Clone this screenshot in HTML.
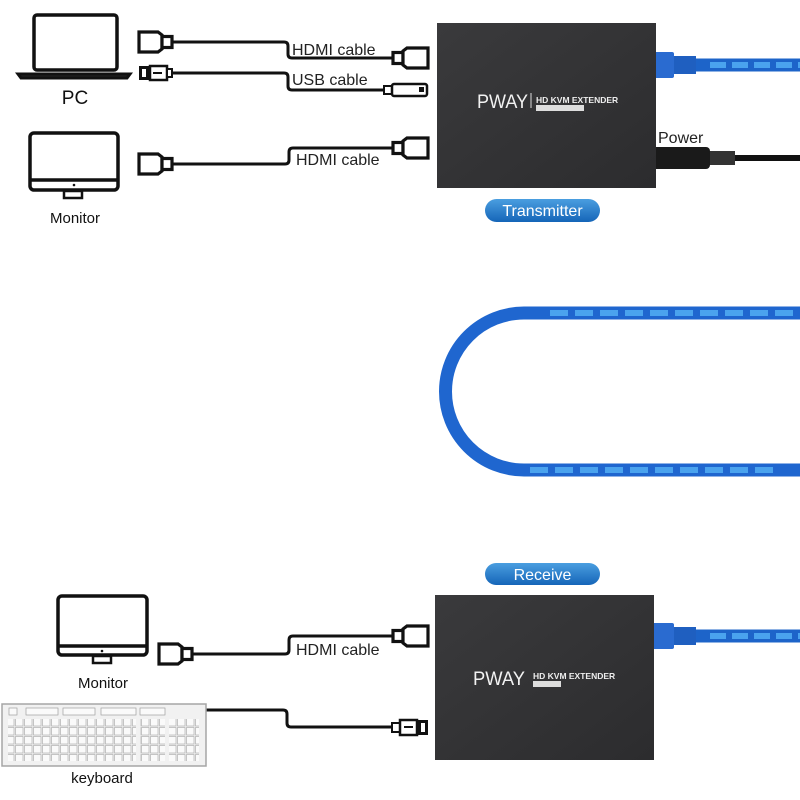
<!DOCTYPE html>
<html><head><meta charset="utf-8"><style>
html,body{margin:0;padding:0;background:#fff;width:800px;height:800px;overflow:hidden}
svg{display:block}
text{font-family:"Liberation Sans",sans-serif}
</style></head><body>
<svg width="800" height="800" viewBox="0 0 800 800" xmlns="http://www.w3.org/2000/svg">
<defs>
  <linearGradient id="box" x1="0" y1="0" x2="1" y2="1">
    <stop offset="0" stop-color="#3a3a3c"/><stop offset="1" stop-color="#2c2c2e"/>
  </linearGradient>
  <linearGradient id="pill" x1="0" y1="0" x2="0" y2="1">
    <stop offset="0" stop-color="#4a9ee0"/><stop offset="1" stop-color="#1565b8"/>
  </linearGradient>
  <pattern id="keys" x="6" y="718" width="9" height="9" patternUnits="userSpaceOnUse">
    <rect x="0.5" y="0.5" width="7.5" height="7.5" fill="#fafafa" stroke="#b0b0b0" stroke-width="0.7"/>
  </pattern>
  <g id="hdmiL">
    <path d="M0,-10 h19 l4,3 v14 l-4,3 h-19 z" fill="#fff" stroke="#111" stroke-width="3.2"/>
    <rect x="23" y="-5.5" width="10" height="11" fill="#fff" stroke="#111" stroke-width="3.2"/>
  </g>
  <g id="hdmiR">
    <rect x="0" y="-5.5" width="10" height="11" fill="#fff" stroke="#111" stroke-width="3.2"/>
    <path d="M14,-10 h21 v20 h-21 l-4,-3 v-14 z" fill="#fff" stroke="#111" stroke-width="3.2"/>
  </g>
</defs>

<rect x="34" y="15" width="83" height="55" rx="3" fill="#fff" stroke="#111" stroke-width="3.5"/>
<path d="M18,74 h112 l-3,4 h-106 z" fill="#222" stroke="#111" stroke-width="3"/>
<text x="75" y="104" font-size="19" text-anchor="middle" fill="#111">PC</text>

<rect x="30" y="133" width="88" height="57" rx="4" fill="#fff" stroke="#111" stroke-width="3.5"/>
<line x1="30" y1="180" x2="118" y2="180" stroke="#111" stroke-width="3.5"/>
<circle cx="74" cy="185" r="1.3" fill="#111"/>
<rect x="64" y="191" width="18" height="7" fill="#fff" stroke="#111" stroke-width="2.5"/>
<text x="75" y="223" font-size="15" text-anchor="middle" fill="#111">Monitor</text>

<g fill="none" stroke="#111" stroke-width="3">
  <path d="M172,42 H284 q4,0 4,4 v8 q0,4 4,4 H392"/>
  <path d="M172,73 H284 q4,0 4,4 v9 q0,4 4,4 H384"/>
  <path d="M172,164 H285 q4,0 4,-4 v-8 q0,-4 4,-4 H392"/>
</g>
<use href="#hdmiL" x="139" y="42"/>
<use href="#hdmiR" x="393" y="58"/>
<use href="#hdmiL" x="139" y="164"/>
<use href="#hdmiR" x="393" y="148"/>
<rect x="139" y="66" width="10" height="14" fill="#111"/>
<rect x="142" y="69" width="4" height="8" fill="#fff"/>
<rect x="150" y="66" width="17" height="14" fill="#fff" stroke="#111" stroke-width="2.5"/>
<path d="M153,73 h9" stroke="#111" stroke-width="2"/>
<rect x="167" y="69" width="5" height="8" fill="#fff" stroke="#111" stroke-width="2"/>
<rect x="384" y="86" width="8" height="8" fill="#fff" stroke="#111" stroke-width="2"/>
<rect x="392" y="84" width="35" height="12" rx="2" fill="#fff" stroke="#111" stroke-width="2.5"/>
<rect x="419" y="87" width="5" height="5" fill="#111"/>

<text x="292" y="55" font-size="16" fill="#222">HDMI cable</text>
<text x="292" y="85" font-size="16" fill="#222">USB cable</text>
<text x="296" y="165" font-size="16" fill="#222">HDMI cable</text>

<g fill="none">
  <path d="M650,65 H800" stroke="#1d64c9" stroke-width="13"/>
  <path d="M710,65 H800" stroke="#4aa3ee" stroke-width="6" stroke-dasharray="16 6"/>
  <path d="M650,158 H800" stroke="#111" stroke-width="6"/>
</g>
<rect x="652" y="52" width="22" height="26" rx="2" fill="#2a6bd0"/>
<rect x="674" y="56" width="22" height="18" fill="#1f5fc0"/>
<rect x="650" y="147" width="60" height="22" rx="4" fill="#1a1a1a"/>
<rect x="710" y="151" width="25" height="14" fill="#333"/>
<rect x="437" y="23" width="219" height="165" fill="url(#box)"/>
<text x="477" y="108" font-size="19" fill="#f2f2f2" textLength="51" lengthAdjust="spacingAndGlyphs">PWAY</text>
<line x1="531" y1="93" x2="531" y2="108" stroke="#ddd" stroke-width="1"/>
<text x="536" y="103" font-size="8.5" fill="#eee" font-weight="bold">HD KVM EXTENDER</text>
<rect x="536" y="105" width="48" height="6" fill="#ddd"/>
<text x="658" y="143" font-size="16" fill="#222">Power</text>
<rect x="485" y="199" width="115" height="23" rx="11.5" fill="url(#pill)"/>
<text x="542.5" y="216" font-size="16" fill="#fff" text-anchor="middle">Transmitter</text>

<path d="M800,313 H524 A78,78 0 0 0 524,470 H800" fill="none" stroke="#1f66cf" stroke-width="13"/>
<path d="M550,313 H800" fill="none" stroke="#4aa3ee" stroke-width="6" stroke-dasharray="18 7"/>
<path d="M530,470 H780" fill="none" stroke="#4aa3ee" stroke-width="6" stroke-dasharray="18 7"/>

<rect x="485" y="563" width="115" height="22" rx="11" fill="url(#pill)"/>
<text x="542.5" y="580" font-size="16" fill="#fff" text-anchor="middle">Receive</text>

<g fill="none">
  <path d="M650,636 H800" stroke="#1d64c9" stroke-width="13"/>
  <path d="M710,636 H800" stroke="#4aa3ee" stroke-width="6" stroke-dasharray="16 6"/>
</g>
<rect x="652" y="623" width="22" height="26" rx="2" fill="#2a6bd0"/>
<rect x="674" y="627" width="22" height="18" fill="#1f5fc0"/>
<rect x="435" y="595" width="219" height="165" fill="url(#box)"/>
<text x="473" y="685" font-size="19" fill="#f2f2f2" textLength="52" lengthAdjust="spacingAndGlyphs">PWAY</text>
<text x="533" y="679" font-size="8.5" fill="#eee" font-weight="bold">HD KVM EXTENDER</text>
<rect x="533" y="681" width="28" height="6" fill="#ddd"/>

<rect x="58" y="596" width="89" height="59" rx="4" fill="#fff" stroke="#111" stroke-width="3.5"/>
<line x1="58" y1="646" x2="147" y2="646" stroke="#111" stroke-width="3.5"/>
<circle cx="102" cy="651" r="1.3" fill="#111"/>
<rect x="93" y="656" width="18" height="7" fill="#fff" stroke="#111" stroke-width="2.5"/>
<text x="103" y="688" font-size="15" text-anchor="middle" fill="#111">Monitor</text>

<g fill="none" stroke="#111" stroke-width="3">
  <path d="M193,654 H285 q4,0 4,-4 v-10 q0,-4 4,-4 H392"/>
  <path d="M206,710 H283 q4,0 4,4 v9 q0,4 4,4 H394"/>
</g>
<use href="#hdmiL" x="159" y="654"/>
<use href="#hdmiR" x="393" y="636"/>
<text x="296" y="655" font-size="16" fill="#222">HDMI cable</text>
<rect x="392" y="723" width="8" height="9" fill="#fff" stroke="#111" stroke-width="2"/>
<rect x="400" y="720" width="17" height="15" fill="#fff" stroke="#111" stroke-width="2.5"/>
<path d="M404,727 h9" stroke="#111" stroke-width="2"/>
<rect x="418" y="720" width="10" height="15" fill="#111"/>
<rect x="421" y="723" width="4" height="9" fill="#fff"/>

<rect x="2" y="704" width="204" height="62" fill="#f1f1f1" stroke="#a5a5a5" stroke-width="1.5"/>
<g fill="#fafafa" stroke="#a0a0a0" stroke-width="0.7">
  <rect x="9" y="708" width="8" height="7"/>
  <rect x="26" y="708" width="32" height="7"/><rect x="63" y="708" width="32" height="7"/>
  <rect x="101" y="708" width="35" height="7"/><rect x="140" y="708" width="25" height="7"/>
</g>
<rect x="8" y="719" width="128" height="42" fill="url(#keys)"/>
<rect x="140" y="719" width="25" height="42" fill="url(#keys)"/>
<rect x="169" y="719" width="30" height="42" fill="url(#keys)"/>
<text x="102" y="783" font-size="15" text-anchor="middle" fill="#111">keyboard</text>
</svg>
</body></html>
